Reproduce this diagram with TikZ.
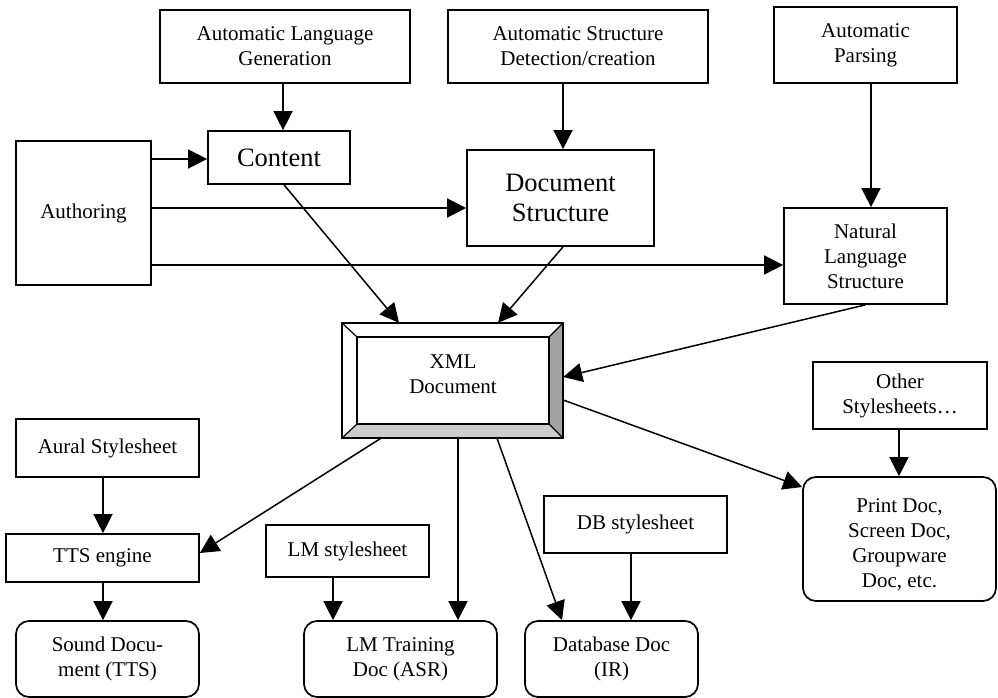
\documentclass[tikz,border=0pt]{standalone}
\usepackage{fontspec}
\setmainfont{Liberation Serif}
\usetikzlibrary{arrows.meta,calc}
\begin{document}
\begin{tikzpicture}[x=1pt,y=-1pt,
  box/.style={draw,line width=1.7pt,inner sep=0pt,align=center,font=\fontsize{21}{25}\selectfont},
  bigbox/.style={box,font=\fontsize{26.5}{30}\selectfont},
  rbox/.style={box,rounded corners=13pt},
  arr/.style={line width=1.5pt,-{Triangle[length=19pt,width=19pt]}},
  line/.style={line width=1.5pt}]
\useasboundingbox (0,0) rectangle (998,698);
% top row
\node[box,minimum width=250,minimum height=73] (alg) at (285,46.5) {Automatic Language\\Generation};
\node[box,minimum width=260,minimum height=73] (asd) at (578,46.5) {Automatic Structure\\Detection/creation};
\node[box,minimum width=183,minimum height=76] (ap) at (865.5,45) {Automatic\\Parsing};
% second row
\node[bigbox,minimum width=142,minimum height=53] (content) at (279,157.5) {Content};
\node[box,minimum width=135,minimum height=144] (auth) at (83.5,213) {Authoring};
\node[bigbox,minimum width=187,minimum height=96] (ds) at (560.5,198) {Document\\Structure};
\node[box,minimum width=163,minimum height=96] (nls) at (865.5,256) {Natural\\Language\\Structure};
% XML document
\node[minimum width=221,minimum height=115,inner sep=0pt] (xml) at (452.5,380.5) {};
\node[minimum width=192,minimum height=87,inner sep=0pt] (xmlin) at (453,380.5) {};
\fill[white] (xml.north west) rectangle (xml.south east);
\fill[gray!80!black!60] (xml.north east) -- (xml.south east) -- (xmlin.south east) -- (xmlin.north east) -- cycle;
\fill[black!20] (xml.south west) -- (xml.south east) -- (xmlin.south east) -- (xmlin.south west) -- cycle;
\draw[line width=1.7pt] (xml.north west) rectangle (xml.south east);
\draw[line width=1.7pt] (xmlin.north west) rectangle (xmlin.south east);
\draw[line width=1.2pt] (xml.north west) -- (xmlin.north west)
  (xml.north east) -- (xmlin.north east)
  (xml.south west) -- (xmlin.south west)
  (xml.south east) -- (xmlin.south east);
\node[align=center,inner sep=0pt,font=\fontsize{21}{25}\selectfont] (xmltext) at (453,374) {XML\\Document};
% lower left
\node[box,minimum width=183,minimum height=58] (aural) at (107.5,448) {Aural Stylesheet};
\node[box,minimum width=193,minimum height=48] (tts) at (102.5,558) {TTS engine};
\node[rbox,minimum width=183,minimum height=76] (sound) at (107.5,659) {Sound Docu-\\ment (TTS)};
\node[box,minimum width=163,minimum height=52] (lms) at (347.5,551) {LM stylesheet};
\node[rbox,minimum width=193,minimum height=76] (lmt) at (400.5,659) {LM Training\\Doc (ASR)};
\node[box,minimum width=183,minimum height=57] (dbs) at (635.5,524.5) {DB stylesheet};
\node[rbox,minimum width=173,minimum height=76] (db) at (611.5,659) {Database Doc\\(IR)};
\node[box,minimum width=174,minimum height=67] (other) at (900,395.5) {Other\\Stylesheets…};
\node[rbox,minimum width=193,minimum height=124] (print) at (899.5,539) {};
\node[align=center,inner sep=0pt,font=\fontsize{21}{25}\selectfont] (printtext) at (899.5,545) {Print Doc,\\Screen Doc,\\Groupware\\Doc, etc.};
% connectors
\draw[arr] (alg.south -| 283,0) -- (content.north -| 283,0);
\draw[arr] (auth.east |- 0,159) -- (content.west |- 0,159);
\draw[arr] (auth.east |- 0,208) -- (ds.west |- 0,208);
\draw[arr] (auth.east |- 0,265) -- (nls.west |- 0,265);
\draw[arr] (asd.south -| 563,0) -- (ds.north -| 563,0);
\draw[arr] (ap.south -| 871,0) -- (nls.north -| 871,0);
\draw[arr] (content.south -| 284,0) -- (xml.north -| 399,0);
\draw[arr] (ds.south -| 563,0) -- (xml.north -| 498,0);
\draw[arr] (nls.south) -- (xml.east |- 0,377);
\draw[arr] (xml.east |- 0,400) -- (print.west |- 0,487);
\draw[arr] (xml.south -| 381,0) -- (tts.east |- 0,553);
\draw[arr] (xml.south -| 458,0) -- (lmt.north -| 458,0);
\draw[arr] (xml.south -| 497,0) -- (db.north -| 562,0);
\draw[arr] (aural.south -| 103,0) -- (tts.north -| 103,0);
\draw[arr] (tts.south -| 103,0) -- (sound.north -| 103,0);
\draw[arr] (lms.south -| 333,0) -- (lmt.north -| 333,0);
\draw[arr] (dbs.south -| 631,0) -- (db.north -| 631,0);
\draw[arr] (other.south -| 899,0) -- (print.north -| 899,0);
\end{tikzpicture}
\end{document}
